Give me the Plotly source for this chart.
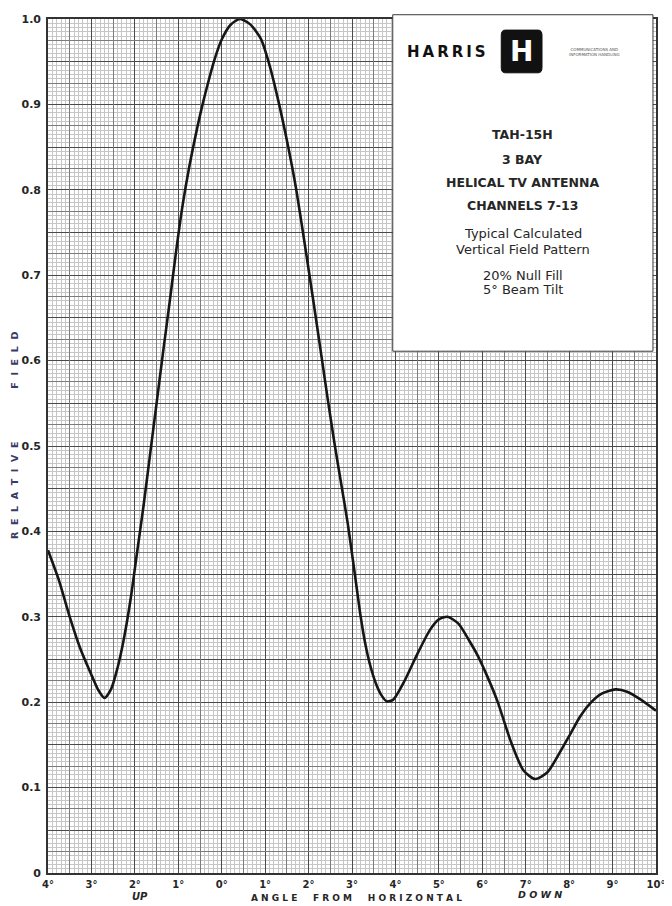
import plotly.graph_objects as go

# ---------------- data ----------------
angle_deg = [-4.0, -3.75, -3.5, -3.25, -3.0, -2.85, -2.7, -2.55, -2.4, -2.25, -2.1, -1.95,
             -1.8, -1.65, -1.5, -1.35, -1.2, -1.05, -0.9, -0.75, -0.6, -0.45, -0.3, -0.15,
             0.0, 0.2, 0.42, 0.65, 0.9, 1.1, 1.3, 1.5, 1.7, 1.85, 2.0, 2.15, 2.3, 2.45,
             2.6, 2.75, 2.9, 3.0, 3.1, 3.2, 3.3, 3.42, 3.55, 3.68, 3.8, 3.95, 4.2, 4.5,
             4.8, 5.0, 5.2, 5.45, 5.7, 5.88, 6.1, 6.35, 6.65, 6.95, 7.22, 7.5, 7.75, 8.03,
             8.25, 8.49, 8.75, 9.07, 9.35, 9.65, 10.0]
relative_field = [0.378, 0.343, 0.30, 0.262, 0.232, 0.215, 0.205, 0.215, 0.24, 0.275, 0.32, 0.375,
                  0.43, 0.49, 0.55, 0.61, 0.668, 0.728, 0.782, 0.826, 0.864, 0.898, 0.928, 0.955,
                  0.976, 0.993, 1.0, 0.994, 0.977, 0.946, 0.905, 0.858, 0.805, 0.757, 0.707, 0.656,
                  0.604, 0.552, 0.502, 0.456, 0.41, 0.374, 0.337, 0.30, 0.27, 0.243, 0.222, 0.208,
                  0.201, 0.203, 0.224, 0.256, 0.285, 0.297, 0.30, 0.292, 0.272, 0.256, 0.232, 0.201,
                  0.155, 0.12, 0.11, 0.118, 0.138, 0.163, 0.183, 0.199, 0.21, 0.215, 0.212, 0.203,
                  0.19]

x_tick_values = list(range(-4, 11))
x_tick_labels = ["4°", "3°", "2°", "1°", "0°", "1°", "2°", "3°", "4°", "5°",
                 "6°", "7°", "8°", "9°", "10°"]
y_tick_values = [0.0, 0.1, 0.2, 0.3, 0.4, 0.5, 0.6, 0.7, 0.8, 0.9, 1.0]
y_tick_labels = ["0", "0.1", "0.2", "0.3", "0.4", "0.5", "0.6", "0.7", "0.8", "0.9", "1.0"]

title_lines = ["TAH-15H", "3 BAY", "HELICAL TV ANTENNA", "CHANNELS 7-13"]
note_lines = ["Typical Calculated", "Vertical Field Pattern", "20% Null Fill", "5° Beam Tilt"]

# ---------------- grid tick sets (built from tick lists) ----------------
y_heavy_vals, y_heavy_text = [], []
for i, v in enumerate(y_tick_values):
    y_heavy_vals.append(v)
    y_heavy_text.append(y_tick_labels[i])
    if i < len(y_tick_values) - 1:
        y_heavy_vals.append(round(v + 0.05, 3))
        y_heavy_text.append("")
y_medium_vals = [round(v + 0.025, 4) for v in y_heavy_vals[:-1]]
x_medium_vals = [v + 0.5 for v in x_tick_values[:-1]]

XR = [-4, 10]
YR = [0, 1.0]

HEAVY = "#4a4a4a"
MEDIUM = "#7c7c7c"
FINE = "#c6c6c6"
TXT = "#262626"
NB = "\u00a0"


def spaced(word_list, gap):
    return (NB * gap).join(NB.join(list(w)) for w in word_list)


fig = go.Figure()
fig.add_trace(go.Scatter(x=[None], y=[None], xaxis="x2", yaxis="y2",
                         showlegend=False, hoverinfo="skip"))
fig.add_trace(go.Scatter(x=angle_deg, y=relative_field, mode="lines",
                         line=dict(color="#161616", width=2.6, shape="spline", smoothing=0.7),
                         showlegend=False))

fig.update_layout(
    width=664, height=898,
    margin=dict(l=40, r=16, t=5, b=33),
    paper_bgcolor="white", plot_bgcolor="white",
    font=dict(family="DejaVu Sans", color=TXT),
    xaxis=dict(range=XR, tickvals=x_tick_values, ticktext=x_tick_labels,
               showgrid=True, gridcolor=HEAVY, gridwidth=1.3,
               minor=dict(dtick=0.1, showgrid=True, gridcolor=FINE, gridwidth=0.6),
               showline=True, linecolor="#333", linewidth=1.6, mirror=True,
               zeroline=False, ticks="", ticklabelstandoff=1,
               tickfont=dict(family="DejaVu Sans", size=10, color=TXT, weight="bold")),
    yaxis=dict(range=YR, tickvals=y_heavy_vals, ticktext=y_heavy_text,
               showgrid=True, gridcolor=HEAVY, gridwidth=1.3,
               minor=dict(dtick=0.005, showgrid=True, gridcolor=FINE, gridwidth=0.6),
               showline=True, linecolor="#333", linewidth=1.6, mirror=True,
               zeroline=False, ticks="", ticklabelstandoff=3,
               tickfont=dict(family="DejaVu Sans", size=11, color=TXT, weight="bold")),
    xaxis2=dict(range=XR, overlaying="x", anchor="y2", tickvals=x_medium_vals,
                showgrid=True, gridcolor=MEDIUM, gridwidth=0.9, showticklabels=False,
                ticks="", zeroline=False, showline=False),
    yaxis2=dict(range=YR, overlaying="y", anchor="x2", tickvals=y_medium_vals,
                showgrid=True, gridcolor=MEDIUM, gridwidth=0.9, showticklabels=False,
                ticks="", zeroline=False, showline=False),
)


def note(x, y, text, size, color=TXT, **kw):
    fig.add_annotation(xref="paper", yref="paper", x=x, y=y, text=text, showarrow=False,
                       xanchor="center", yanchor="middle",
                       font=dict(family="DejaVu Sans", size=size, color=color), **kw)


# white label box in the upper right
fig.add_shape(type="rect", xref="paper", yref="paper", x0=0.567, x1=0.995, y0=0.611, y1=1.005,
              fillcolor="white", line=dict(color="#3a3a3a", width=1), layer="above")

# logo
fig.add_shape(type="path", xref="paper", yref="paper",
              path="M 0.752 0.937 L 0.806 0.937 Q 0.8125 0.937 0.8125 0.943 L 0.8125 0.981 "
                   "Q 0.8125 0.987 0.806 0.987 L 0.752 0.987 Q 0.7455 0.987 0.7455 0.981 "
                   "L 0.7455 0.943 Q 0.7455 0.937 0.752 0.937 Z",
              fillcolor="#111", line=dict(color="#111", width=1), layer="above")
note(0.779, 0.962, "<b>H</b>", 28, color="white")
note(0.655, 0.961, "<b>" + "\u2009".join("HARRIS") + "</b>", 15, color="#111")
note(0.899, 0.961, "COMMUNICATIONS AND<br>INFORMATION HANDLING", 4, color="#555")

title_y = [0.865, 0.836, 0.809, 0.782]
for t, yy in zip(title_lines, title_y):
    note(0.781, yy, "<b>" + t + "</b>", 12.5)
note_y = [0.749, 0.730, 0.700, 0.683]
for t, yy in zip(note_lines, note_y):
    note(0.781, yy, t, 13)

# axis titles
note(0.151, -0.027, "<b><i>UP</i></b>", 10)
note(0.508, -0.029, "<b>" + spaced(["ANGLE", "FROM", "HORIZONTAL"], 5) + "</b>", 9)
note(0.809, -0.025, "<b><i>" + spaced(["DOWN"], 1) + "</i></b>", 9.5)
note(-0.054, 0.512, "<b>" + spaced(["RELATIVE", "FIELD"], 8).replace(NB, NB + NB) + "</b>",
     9.5, color="#3a3a66", textangle=-90)

fig.write_html("out.html")
